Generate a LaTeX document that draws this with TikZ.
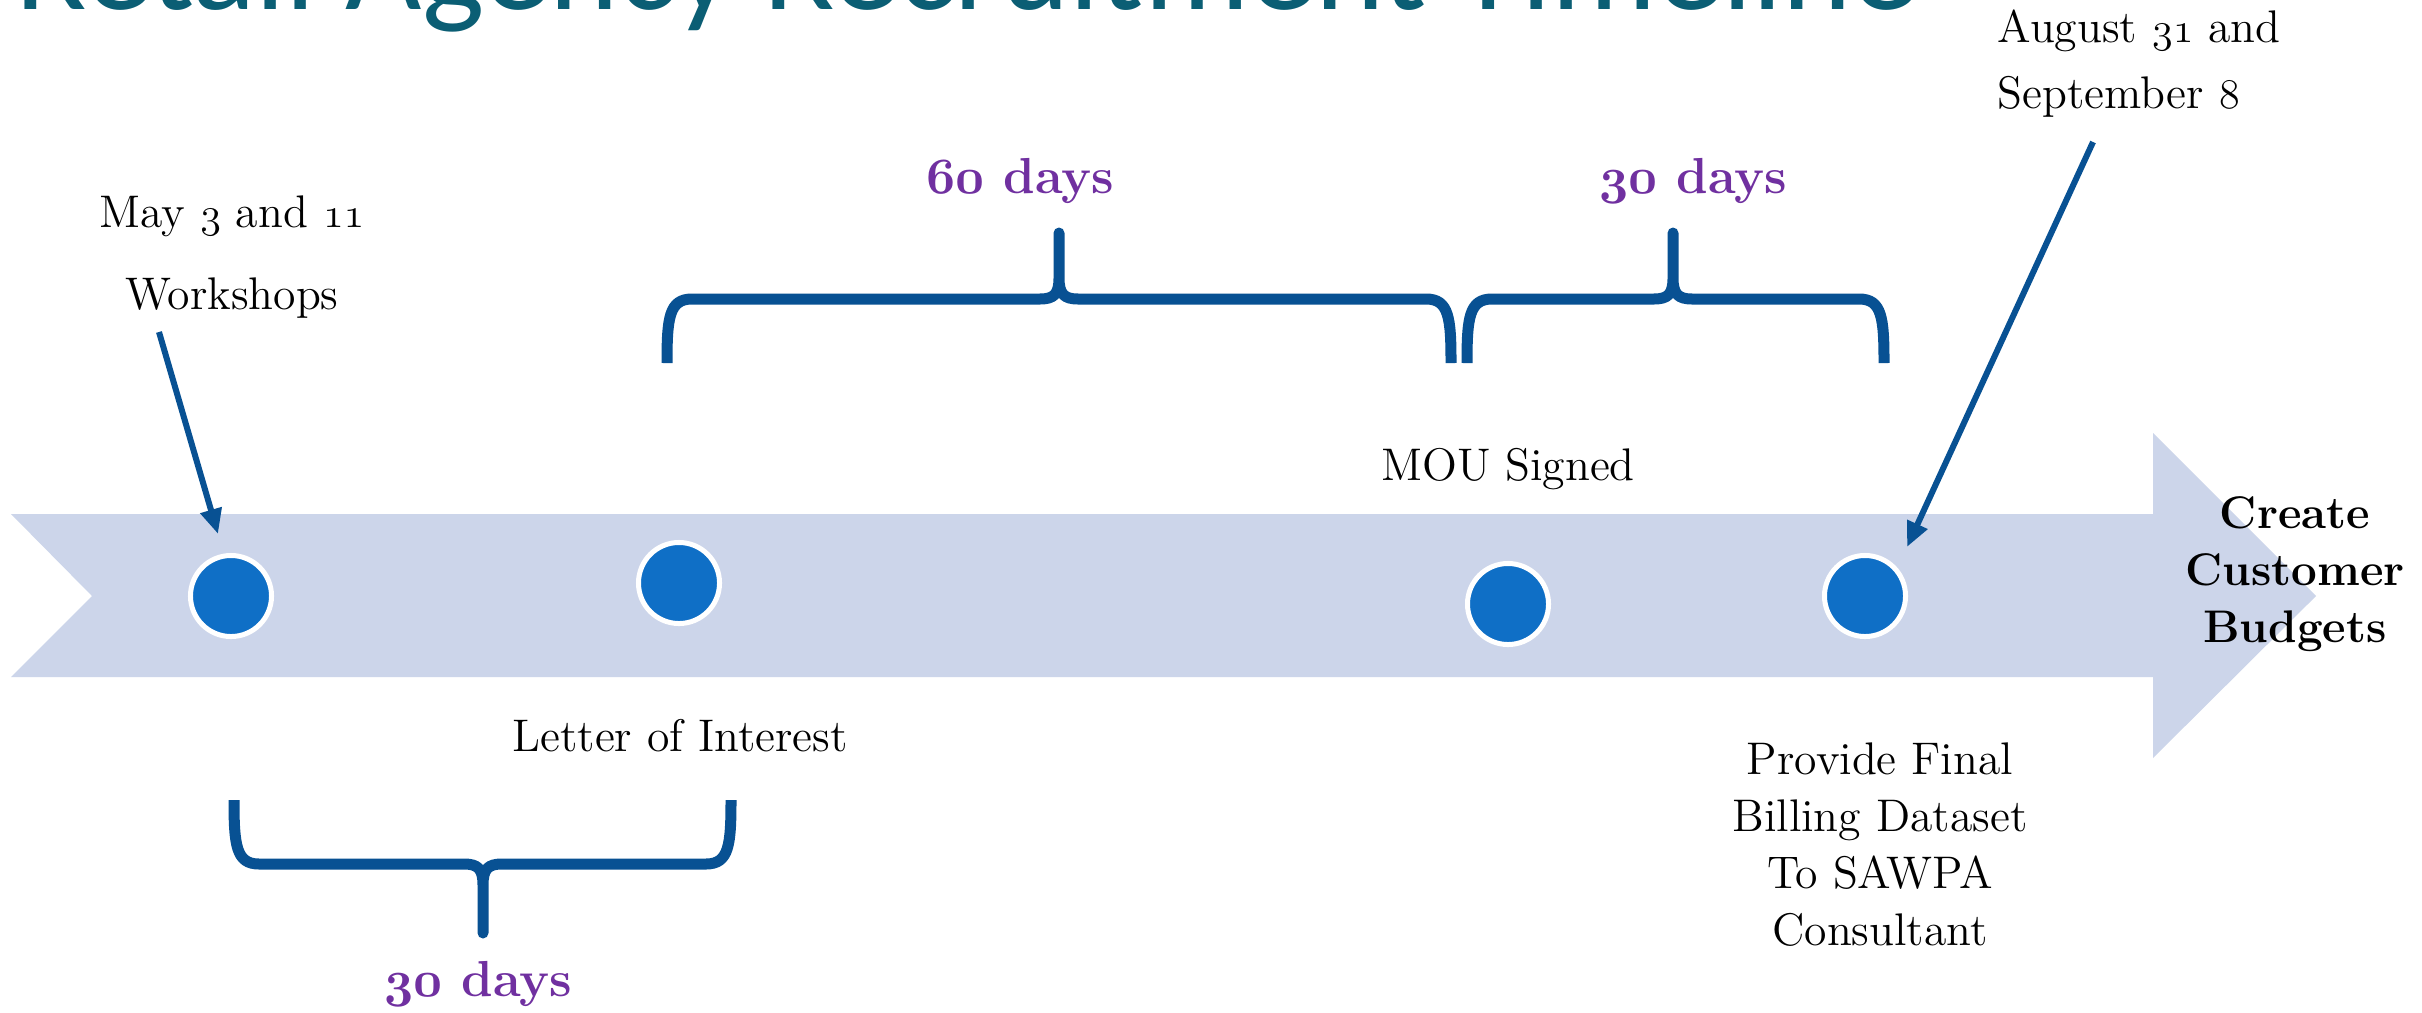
\documentclass[tikz,border=0pt]{standalone}
\usepackage{fontspec}
\newfontfamily\titlefont{Carlito}
\usetikzlibrary{arrows.meta}
\definecolor{bandcol}{RGB}{204,213,234}
\definecolor{dotcol}{RGB}{15,111,198}
\definecolor{dblue}{RGB}{8,81,147}
\definecolor{purp}{RGB}{112,48,160}
\definecolor{ttl}{RGB}{11,94,116}
\newcommand\osf[1]{{\usefont{OML}{lmm}{m}{it}#1}}
\newcommand\osfb[1]{{\usefont{OML}{cmm}{b}{it}#1}}
\begin{document}
\begin{tikzpicture}[x=0.01cm,y=-0.01cm,
  lbl/.style={font=\fontsize{13}{16.2}\selectfont, inner sep=0, align=center, text=black},
  dur/.style={font=\fontsize{14.4}{18}\selectfont\bfseries, text=purp, inner sep=0, anchor=base},
  dotnode/.style={circle, fill=dotcol, draw=white, line width=0.05cm, minimum size=0.81cm, inner sep=0},
  bracepath/.style={draw=dblue, line width=0.11cm, line join=round},
  pointer/.style={draw=dblue, line width=0.06cm, -{Triangle[length=0.25cm,width=0.21cm]}}]
\useasboundingbox (0,0) rectangle (2422,1012);
\clip (0,0) rectangle (2422,1012);
\fill[white] (0,0) rectangle (2422,1012);
% title
\node[anchor=base west, inner sep=0, font=\titlefont\fontsize{37.5}{40}\selectfont, text=ttl] (title) at (15,9) {Retail Agency Recruitment Timeline};
% band arrow
\fill[bandcol] (11,514) -- (2153,514) -- (2153,433) -- (2316,596) -- (2153,758) -- (2153,677) -- (11,677) -- (92,596) -- cycle;
% dots
\node[dotnode] (c1) at (231,596) {};
\node[dotnode] (c2) at (679,583) {};
\node[dotnode] (c3) at (1508,604) {};
\node[dotnode] (c4) at (1865,596) {};
% braces
\draw[bracepath] (667,363) .. controls (667,318) and (669,299) .. (692,299) -- (1040,299) .. controls (1054,299) and (1059,294) .. (1059,278) -- (1059,233) -- (1059,278) .. controls (1059,294) and (1064,299) .. (1078,299) -- (1426,299) .. controls (1449,299) and (1451,318) .. (1451,363);
\draw[bracepath] (1467,363) .. controls (1467,318) and (1469,299) .. (1492,299) -- (1654,299) .. controls (1668,299) and (1673,294) .. (1673,278) -- (1673,233) -- (1673,278) .. controls (1673,294) and (1678,299) .. (1692,299) -- (1859,299) .. controls (1882,299) and (1884,318) .. (1884,363);
\draw[bracepath] (234,800) .. controls (234,845) and (236,864) .. (259,864) -- (464,864) .. controls (478,864) and (483,869) .. (483,885) -- (483,933) -- (483,885) .. controls (483,869) and (488,864) .. (502,864) -- (706,864) .. controls (729,864) and (731,845) .. (731,800);
% durations
\node[dur] (d60) at (1020,193) {\osfb{60} days};
\node[dur] (d30a) at (1693,193) {\osfb{30} days};
\node[dur] (d30b) at (478,996) {\osfb{30} days};
% labels (anchor base = baseline of last line)
\node[lbl, font=\fontsize{13}{23.3}\selectfont, anchor=base] (may) at (232,309) {May \osf{3} and \osf{11}\\Workshops};
\node[lbl, anchor=base] (mou) at (1508,480) {MOU Signed};
\node[lbl, anchor=base] (loi) at (680,751) {Letter of Interest};
\node[lbl, anchor=base] (pfb) at (1880,945) {Provide Final\\Billing Dataset\\To SAWPA\\Consultant};
\node[lbl, font=\fontsize{13}{16.2}\selectfont\bfseries, anchor=base] (ccb) at (2295,642) {Create\\Customer\\Budgets};
\node[lbl, align=left, font=\fontsize{13}{18.5}\selectfont, anchor=base west] (aug) at (1997,108) {August \osf{31} and\\September \osf{8}};
% pointers
\coordinate (p1s) at (159,332);
\coordinate (p1e) at (218,534);
\coordinate (p2s) at (2093,142);
\coordinate (p2e) at (1907,547);
\draw[pointer] (p1s) -- (p1e);
\draw[pointer] (p2s) -- (p2e);
\end{tikzpicture}
\end{document}
